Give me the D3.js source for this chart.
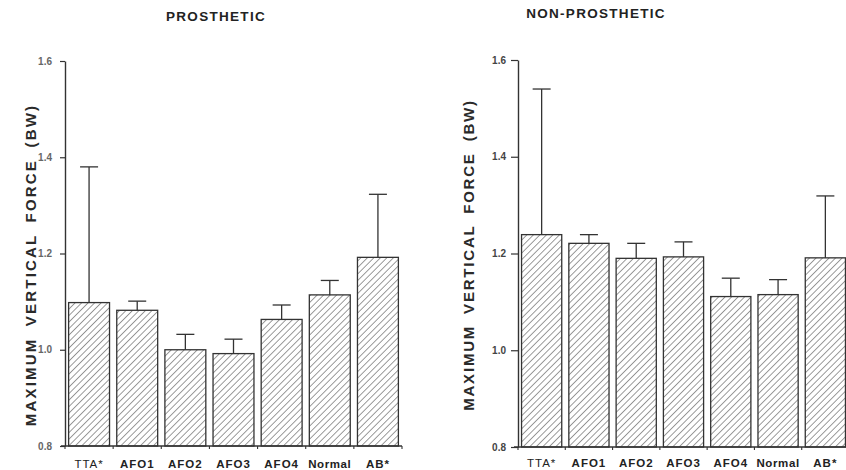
<!DOCTYPE html>
<html>
<head>
<meta charset="utf-8">
<script src="https://cdn.jsdelivr.net/npm/d3@7"></script>
<style>
  html, body { margin: 0; padding: 0; background: #fff; }
  svg { display: block; }
  text { font-family: Arial, "Liberation Sans", Helvetica, sans-serif; }
</style>
</head>
<body>
<svg id="chart" width="846" height="470"></svg>
<script>
// Conditions shown along each x axis
const categories = ["TTA*", "AFO1", "AFO2", "AFO3", "AFO4", "Normal", "AB*"];

// Mean maximum vertical force (body weights) and the upper error (mean + SD)
const prostheticMean  = [1.098, 1.082, 1.000, 0.992, 1.063, 1.114, 1.192];
const prostheticUpper = [1.380, 1.101, 1.032, 1.022, 1.093, 1.144, 1.323];

const nonProstheticMean  = [1.239, 1.221, 1.190, 1.193, 1.111, 1.115, 1.191];
const nonProstheticUpper = [1.540, 1.239, 1.221, 1.224, 1.149, 1.146, 1.319];

const yTicks = [0.8, 1.0, 1.2, 1.4, 1.6];
const yDomain = [0.8, 1.6];
const yLabel = "MAXIMUM VERTICAL FORCE (BW)";

const svg = d3.select("#chart");
const ink = "#333";

// Diagonal hatching used to fill every bar
const defs = svg.append("defs");
defs.append("pattern")
  .attr("id", "hatch")
  .attr("patternUnits", "userSpaceOnUse")
  .attr("width", 4.6)
  .attr("height", 4.6)
  .attr("patternTransform", "rotate(45)")
  .append("line")
  .attr("x1", 0).attr("y1", 0)
  .attr("x2", 0).attr("y2", 4.6)
  .attr("stroke", "#4a4a4a")
  .attr("stroke-width", 1.1);

function panel(opts) {
  const { title, titleX, titleY, means, uppers, xRange, yRange,
          labelX, labelCenter, labelSpacing, wordSpacing,
          tickColor, tickLen, tickPad, catY } = opts;

  const g = svg.append("g");

  const x = d3.scaleBand()
    .domain(categories)
    .range(xRange)
    .paddingInner(0.15)
    .paddingOuter(0.075);

  const y = d3.scaleLinear().domain(yDomain).range(yRange);

  // Title
  g.append("text")
    .attr("x", titleX).attr("y", titleY)
    .attr("text-anchor", "middle")
    .attr("font-size", 13.5)
    .attr("font-weight", "bold")
    .attr("letter-spacing", 1.3)
    .attr("fill", "#222")
    .text(title);

  // Rotated y-axis label
  g.append("text")
    .attr("transform", `translate(${labelX},${labelCenter}) rotate(-90)`)
    .attr("text-anchor", "middle")
    .attr("font-size", 15)
    .attr("font-weight", "bold")
    .attr("fill", "#2a2a2a")
    .attr("letter-spacing", labelSpacing)
    .attr("word-spacing", wordSpacing)
    .text(yLabel);

  const data = categories.map((c, i) => ({ c, m: means[i], u: uppers[i] }));

  // Error bars (upper whisker only)
  const eb = g.append("g").attr("stroke", ink).attr("stroke-width", 1.3).attr("fill", "none");
  data.forEach(d => {
    const cx = x(d.c) + x.bandwidth() / 2;
    eb.append("line").attr("x1", cx).attr("x2", cx).attr("y1", y(d.m)).attr("y2", y(d.u));
    eb.append("line").attr("x1", cx - 9).attr("x2", cx + 9).attr("y1", y(d.u)).attr("y2", y(d.u));
  });

  // Bars
  g.append("g").selectAll("rect")
    .data(data)
    .join("rect")
    .attr("x", d => x(d.c))
    .attr("width", x.bandwidth())
    .attr("y", d => y(d.m))
    .attr("height", d => y(yDomain[0]) - y(d.m))
    .attr("fill", "url(#hatch)")
    .attr("stroke", ink)
    .attr("stroke-width", 1.3);

  // Y axis
  const yAxis = d3.axisLeft(y)
    .tickValues(yTicks)
    .tickFormat(d3.format(".1f"))
    .tickSize(tickLen)
    .tickSizeOuter(0)
    .tickPadding(tickPad);
  const ya = g.append("g")
    .attr("transform", `translate(${xRange[0]},0)`)
    .call(yAxis);
  ya.select(".domain").attr("stroke", ink).attr("stroke-width", 1.4);
  ya.selectAll(".tick line").attr("stroke", ink).attr("stroke-width", 1.2);
  ya.selectAll(".tick text")
    .attr("font-size", 10)
    .attr("font-weight", "bold")
    .attr("fill", tickColor)
    .attr("font-family", "Arial, 'Liberation Sans', sans-serif");

  // X axis baseline with ticks at band boundaries
  const base = y(yDomain[0]);
  const xa = g.append("g").attr("stroke", ink).attr("stroke-width", 1.4);
  xa.append("line")
    .attr("x1", xRange[0] - 4).attr("x2", xRange[1])
    .attr("y1", base).attr("y2", base);
  const bounds = categories.map(c => x(c) + x.bandwidth() / 2 - x.step() / 2)
    .concat([x(categories[categories.length - 1]) + x.bandwidth() / 2 + x.step() / 2]);
  bounds.forEach(b => {
    xa.append("line").attr("x1", b).attr("x2", b).attr("y1", base).attr("y2", base + 3)
      .attr("stroke-width", 1.1);
  });

  // Category labels
  g.append("g").selectAll("text")
    .data(categories)
    .join("text")
    .attr("x", c => x(c) + x.bandwidth() / 2)
    .attr("y", catY)
    .attr("text-anchor", "middle")
    .attr("font-size", 11.5)
    .attr("font-weight", c => c === "TTA*" ? "normal" : "bold")
    .attr("letter-spacing", c => c === "Normal" ? 0.6 : 1)
    .attr("fill", "#222")
    .text(c => c);
}

panel({
  title: "PROSTHETIC", titleX: 216, titleY: 21,
  means: prostheticMean, uppers: prostheticUpper,
  xRange: [65, 402], yRange: [446, 61],
  labelX: 36, labelCenter: 265, labelSpacing: 2.2, wordSpacing: 5,
  tickColor: "#666", tickLen: 5, tickPad: 8, catY: 468
});

panel({
  title: "NON-PROSTHETIC", titleX: 596, titleY: 17.5,
  means: nonProstheticMean, uppers: nonProstheticUpper,
  xRange: [518, 849], yRange: [447, 60],
  labelX: 473.5, labelCenter: 255, labelSpacing: 1.8, wordSpacing: 5,
  tickColor: "#444", tickLen: 7, tickPad: 5, catY: 467
});
</script>
</body>
</html>
